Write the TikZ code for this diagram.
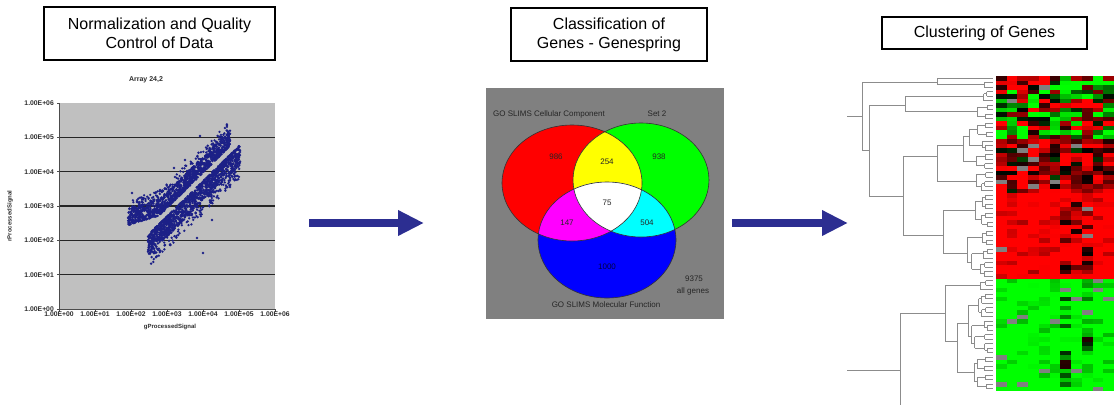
\documentclass[tikz,border=0pt]{standalone}
\usepackage{fontspec}
\setmainfont{Liberation Sans}
\usetikzlibrary{arrows.meta}
\definecolor{navyarrow}{RGB}{44,46,145}
\definecolor{dotblue}{RGB}{28,32,135}
\definecolor{plotgray}{RGB}{192,192,192}
\definecolor{panelgray}{RGB}{128,128,128}
\definecolor{dendgray}{RGB}{140,140,140}
\definecolor{labgray}{RGB}{45,45,45}
\definecolor{vred}{RGB}{255,0,0}
\definecolor{vgreen}{RGB}{0,255,0}
\definecolor{vblue}{RGB}{0,0,255}
\definecolor{vyellow}{RGB}{255,255,0}
\definecolor{vmagenta}{RGB}{255,0,255}
\definecolor{vcyan}{RGB}{0,255,255}
\tikzset{
 titlebox/.style={draw=black, line width=2.5pt, fill=white, align=center, font=\fontsize{16}{19}\selectfont, inner sep=0pt},
 bigarrow/.style={draw=navyarrow, line width=8pt, -{Triangle[length=26pt,width=24pt]}},
 dend/.style={draw=dendgray, line width=0.9pt},
 ticklab/.style={font=\bfseries\fontsize{6.8}{7}\selectfont, text=labgray, inner sep=0pt},
 axlab/.style={font=\bfseries\fontsize{6}{7}\selectfont, text=labgray, inner sep=0pt},
 vlab/.style={font=\fontsize{8}{9}\selectfont, text=black!85, inner sep=0pt},
 dot/.style={fill=dotblue},
 vline/.style={draw=black!80, line width=0.6pt},
}
% dendrogram helpers
\newcommand\dtreeat[4]{%
 \begingroup
 \pgfmathsetmacro\dyc{78+4.5*(#1+#2)/2}%
 \ifnum#1=#2\relax
   \draw[dend] (#3,\dyc) -- (993,\dyc);
 \else
   \draw[dend] (#3,\dyc) -- (#4,\dyc);
   \pgfmathtruncatemacro\dm{#1+floor((#2-#1)*(0.3+0.4*rnd))}%
   \pgfmathtruncatemacro\dmm{\dm+1}%
   \pgfmathsetmacro\dyl{78+4.5*(#1+\dm)/2}%
   \pgfmathsetmacro\dyr{78+4.5*(\dmm+#2)/2}%
   \draw[dend] (#4,\dyl) -- (#4,\dyr);
   \edef\dnext{\noexpand\dtree{#1}{\dm}{#4}\noexpand\dtree{\dmm}{#2}{#4}}\dnext
 \fi
 \endgroup}
\newcommand\dtree[3]{%
 \begingroup
 \pgfmathsetmacro\dxn{max(#3+3, 993-10*ln(#2-#1+1)*(0.75+0.5*rnd))}%
 \edef\dnext{\noexpand\dtreeat{#1}{#2}{#3}{\dxn}}\dnext
 \endgroup}

\begin{document}
\begin{tikzpicture}[x=1pt,y=-1pt]
\useasboundingbox (0,0) rectangle (1114,405);

% ---------- titles ----------
\node[titlebox, minimum width=231pt, minimum height=53pt] (t1) at (159.5,33.5) {Normalization and Quality\\Control of Data};
\node[titlebox, minimum width=196pt, minimum height=53pt] (t2) at (609,34.5) {Classification of\\Genes - Genespring};
\node[titlebox, minimum width=205pt, minimum height=32pt] (t3) at (984.5,33) {Clustering of Genes};

% ---------- scatter plot ----------
\fill[plotgray] (59,103) rectangle (275,309);
\foreach \k in {1,...,5}{\draw[black!85, line width=1.3pt] (59,{309-34.333*\k}) -- (275,{309-34.333*\k});}
\draw[black!70, line width=0.6pt] (59,103) -- (59,309) -- (275,309);
\foreach \k in {0,...,6}{
  \draw[black!70, line width=0.6pt] ({59+36*\k},309) -- ++(0,2.5);
  \draw[black!70, line width=0.6pt] (59,{309-34.333*\k}) -- ++(-2.5,0);
  \node[ticklab, anchor=east] (yl\k) at (54,{309-34.333*\k}) {1.00E+0\k};
  \node[ticklab, anchor=north] (xl\k) at ({59+36*\k},312) {1.00E+0\k};
}
\node[axlab, font=\bfseries\fontsize{7}{8}\selectfont] (arrtitle) at (146,80) {Array 24,2};
\node[axlab] (gps) at (170,327) {gProcessedSignal};
\node[axlab, rotate=90] (rps) at (10,216) {rProcessedSignal};

\pgfmathsetseed{42}
\foreach \i in {1,...,1000}{%
  \pgfmathsetmacro\sx{128+102*rnd}%
  \pgfmathsetmacro\sy{min(226-(\sx-128)*0.31, 216-(\sx-160)*0.986)-1-16*rnd^1.4}%
  \fill[dot] (\sx,\sy) circle (1.4pt);
}
\foreach \i in {1,...,160}{%
  \pgfmathsetmacro\sx{132+96*rnd}%
  \pgfmathsetmacro\sy{min(226-(\sx-128)*0.31, 216-(\sx-160)*0.986)-14-12*rnd}%
  \fill[dot] (\sx,\sy) circle (1.3pt);
}
\foreach \i in {1,...,1100}{%
  \pgfmathsetmacro\sx{148+92*rnd}%
  \pgfmathsetmacro\sy{232-(\sx-150)*0.977+1+20*rnd^1.4}%
  \fill[dot] (\sx,\sy) circle (1.4pt);
}
\foreach \i in {1,...,180}{%
  \pgfmathsetmacro\sx{150+90*rnd}%
  \pgfmathsetmacro\sy{232-(\sx-150)*0.977+18+16*rnd}%
  \fill[dot] (\sx,\sy) circle (1.3pt);
}
\foreach \px/\py in {197/238,203/253,200/136,238/163,230/187,132/193,174/168,185/160,240/152,165/245,212/220,143/205,160/190,236/176}{
  \fill[dot] (\px,\py) circle (1.4pt);
}

% ---------- arrows ----------
\coordinate (a1s) at (309,223);
\coordinate (a1e) at (424,223);
\draw[bigarrow] (a1s) -- (a1e);
\coordinate (a2s) at (732,223);
\coordinate (a2e) at (848,223);
\draw[bigarrow] (a2s) -- (a2e);

% ---------- Venn diagram ----------
\fill[panelgray] (486,88) rectangle (724,319);
\fill[vred] (572,183) ellipse (70pt and 58pt);
\fill[vgreen] (641,180) ellipse (68pt and 57pt);
\fill[vblue] (607,240) ellipse (69pt and 58pt);
\begin{scope}\clip (572,183) ellipse (70pt and 58pt);\fill[vyellow] (641,180) ellipse (68pt and 57pt);\end{scope}
\begin{scope}\clip (572,183) ellipse (70pt and 58pt);\fill[vmagenta] (607,240) ellipse (69pt and 58pt);\end{scope}
\begin{scope}\clip (641,180) ellipse (68pt and 57pt);\fill[vcyan] (607,240) ellipse (69pt and 58pt);\end{scope}
\begin{scope}\clip (572,183) ellipse (70pt and 58pt);\clip (641,180) ellipse (68pt and 57pt);\fill[white] (607,240) ellipse (69pt and 58pt);\end{scope}
\draw[vline] (572,183) ellipse (70pt and 58pt);
\draw[vline] (641,180) ellipse (68pt and 57pt);
\draw[vline] (607,240) ellipse (69pt and 58pt);
\node[vlab] (vcc) at (549,114) {GO SLIMS Cellular Component};
\node[vlab] (vs2) at (657,114) {Set 2};
\node[vlab] (vmf) at (606,305) {GO SLIMS Molecular Function};
\node[vlab] (vall1) at (694,279) {9375};
\node[vlab] (vall2) at (693,291) {all genes};
\node[vlab] (nr) at (556,157) {986};
\node[vlab] (ny) at (607,162) {254};
\node[vlab] (ng) at (659,157) {938};
\node[vlab] (nw) at (607,203) {75};
\node[vlab] (nm) at (567,223) {147};
\node[vlab] (nc) at (647,223) {504};
\node[vlab, text=black!75!blue] (nb) at (607,267) {1000};

% ---------- heatmap ----------
\pgfmathsetseed{7}
\foreach \r in {0,...,69}{
 \foreach \c in {0,...,10}{
  \pgfmathsetmacro\hm{ifthenelse(\r<3, ifthenelse(\c<5,0.85,-0.45), ifthenelse(\r<12, 0.05, ifthenelse(\r<14, -0.45, ifthenelse(\r<26, 0.45, ifthenelse(\r<45, 0.95, -1)))))}
  \pgfmathsetmacro\hs{ifthenelse(\r<14, 1.0, ifthenelse(\r<26, 0.65, 0.45))}
  \pgfmathsetmacro\hce{ifthenelse(and(\r>44, or(\c==6,\c==8)), 0.8*rnd, ifthenelse(and(\r>25, \r<45), ifthenelse(and(\c>5,\c<9), -0.6*rnd, 0), 0))}
  \pgfmathsetmacro\hv{\hm+\hce+\hs*(2*rnd-1)}
  \pgfmathsetmacro\hr{max(0,min(1,1.3*\hv))}
  \pgfmathsetmacro\hg{max(0,min(1,-1.3*\hv))}
  \definecolor{hc}{rgb}{\hr,\hg,0}
  \pgfmathsetmacro\hq{rnd}
  \ifdim\hq pt<0.03pt \definecolor{hc}{rgb}{0.5,0.5,0.5}\fi
  \fill[hc] ({996+10.727*\c},{76+4.5*\r}) rectangle ++(11,4.7);
 }
}

% ---------- dendrogram ----------
\pgfmathsetseed{3}
% top tree
\draw[dend] (847,116.5) -- (862,116.5);
\draw[dend] (862,82.5) -- (862,150.6);
\dtreeat{0}{2}{862}{937}
\draw[dend] (862,150.6) -- (869,150.6);
\draw[dend] (869,105) -- (869,196.1);
\dtreeat{3}{9}{869}{905}
\draw[dend] (869,196.1) -- (903,196.1);
\draw[dend] (903,156.75) -- (903,235.5);
\dtreeat{10}{25}{903}{937}
\dtreeat{26}{44}{903}{943}
% bottom tree
\draw[dend] (847,370) -- (900,370);
\draw[dend] (900,313) -- (900,405);
\draw[dend] (900,313) -- (945,313);
\draw[dend] (945,285) -- (945,341);
\dtree{45}{47}{945}
\dtree{48}{69}{945}
\end{tikzpicture}
\end{document}
